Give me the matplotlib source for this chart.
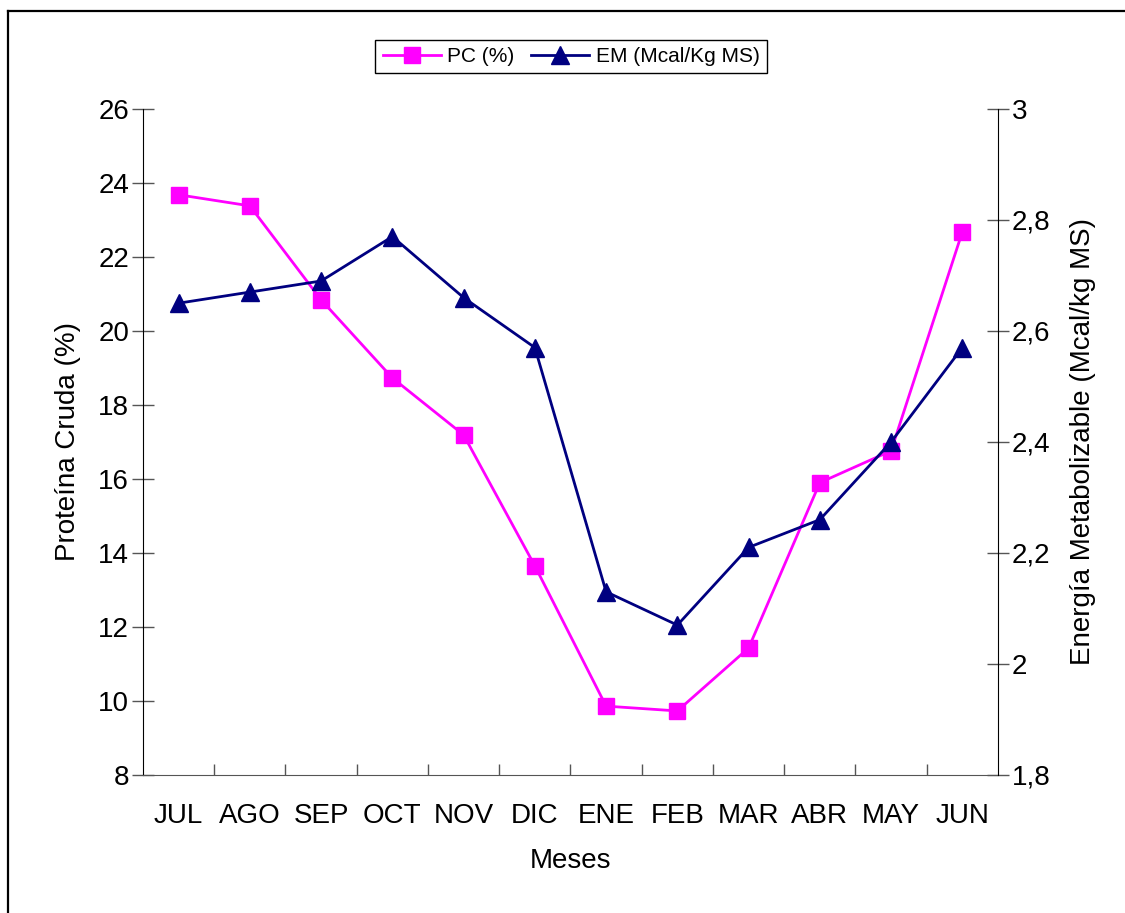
import matplotlib.pyplot as plt
from matplotlib.lines import Line2D
from matplotlib.ticker import FuncFormatter, FixedLocator

plt.rcParams['font.family'] = ['Liberation Sans', 'DejaVu Sans']

meses = ['JUL', 'AGO', 'SEP', 'OCT', 'NOV', 'DIC', 'ENE', 'FEB', 'MAR', 'ABR', 'MAY', 'JUN']
pc = [23.68, 23.38, 20.84, 18.73, 17.19, 13.65, 9.86, 9.73, 11.43, 15.90, 16.76, 22.68]
em = [2.65, 2.67, 2.69, 2.77, 2.66, 2.57, 2.13, 2.07, 2.21, 2.26, 2.40, 2.57]

fig = plt.figure(figsize=(11.25, 9.13), dpi=100)
ax = fig.add_axes([0.1271, 0.1512, 0.76, 0.7295])
ax2 = ax.twinx()

x = list(range(len(meses)))
l1, = ax.plot(x, pc, color='#FF00FF', lw=2, marker='s', ms=12, label='PC (%)')
l2, = ax2.plot(x, em, color='#000080', lw=2, marker='^', ms=13, label='EM (Mcal/Kg MS)')

ax.set_xlim(-0.5, 11.5)
ax.set_ylim(8, 26)
ax.set_yticks(range(8, 27, 2))
ax2.set_ylim(1.8, 3.0)
ax2.set_yticks([1.8, 2.0, 2.2, 2.4, 2.6, 2.8, 3.0])
ax2.yaxis.set_major_formatter(FuncFormatter(lambda v, p: ('%g' % round(v, 1)).replace('.', ',')))

# month names centred, tick marks on the category boundaries
ax.xaxis.set_major_locator(FixedLocator([i + 0.5 for i in range(11)]))
ax.xaxis.set_minor_locator(FixedLocator(x))
ax.set_xticklabels([])
ax.set_xticklabels(meses, minor=True)
ax.tick_params(axis='x', which='major', direction='in', length=8, width=1, color='#555555')
ax.tick_params(axis='x', which='minor', length=0, labelsize=20, pad=20)
ax.tick_params(axis='y', direction='inout', length=16, width=1, color='#555555', labelsize=20, pad=2)
ax2.tick_params(axis='y', direction='inout', length=16, width=1, color='#555555', labelsize=20, pad=2)

for a in (ax, ax2):
    a.spines['top'].set_visible(False)
ax.spines['right'].set_visible(False)
ax2.spines['left'].set_visible(False)
ax2.spines['bottom'].set_visible(False)
ax.spines['bottom'].set_color('#555555')

ax.set_xlabel('Meses', fontsize=20, labelpad=14)
ax.set_ylabel('Proteína Cruda (%)', fontsize=20, labelpad=12)
ax2.set_ylabel('Energía Metabolizable (Mcal/kg MS)', fontsize=20, labelpad=14)

fig.legend(handles=[l1, l2], loc='upper center', bbox_to_anchor=(0.5076, 0.968), ncol=2,
           fontsize=15, frameon=True, fancybox=False, edgecolor='black', framealpha=1,
           handlelength=2.8, columnspacing=0.8, handletextpad=0.3, borderpad=0.35)

# frame lines along the top and left edge of the figure
fig.add_artist(Line2D([0.0075, 1.0], [0.988, 0.988], transform=fig.transFigure, color='black', lw=1.6))
fig.add_artist(Line2D([0.0075, 0.0075], [0.0, 0.988], transform=fig.transFigure, color='black', lw=1.6))

fig.savefig('out.png', dpi=100)
